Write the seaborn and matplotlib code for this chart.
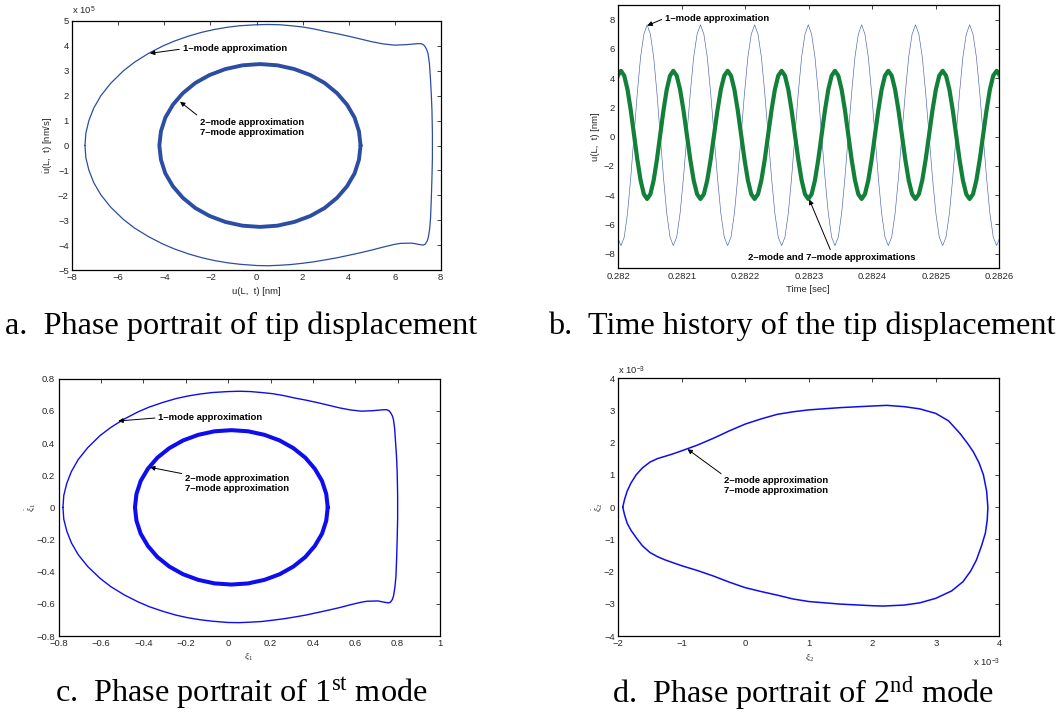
import numpy as np
import pandas as pd
import matplotlib
matplotlib.use("Agg")
import matplotlib.pyplot as plt
from matplotlib.ticker import FuncFormatter
import seaborn as sns

# ---------------- data ----------------
# (a) phase portrait of tip displacement: x in nm, y in 1e5 nm/s
a_outer_x = [-7.45, -7.41, -7.28, -7.07, -6.76, -6.33, -5.78, -5.29, -4.69, -4.06, -3.55, -2.93, -2.36, -1.83,
             -1.26, -0.72, 0.00, 0.50, 1.00, 1.50, 2.00, 2.50, 3.00, 3.50, 4.00, 4.50, 5.00, 5.50, 6.00, 6.50,
             7.00, 7.15, 7.25, 7.33, 7.40, 7.45, 7.51, 7.55, 7.59, 7.62, 7.64, 7.64, 7.62, 7.59, 7.56, 7.52,
             7.46, 7.40, 7.32, 7.23, 7.04, 6.75, 6.25, 6.00, 5.50, 5.00, 4.50, 4.00, 3.50, 3.00, 2.50, 2.00,
             1.50, 1.00, 0.50, 0.00, -0.72, -1.26, -1.83, -2.36, -2.93, -3.55, -4.06, -4.69, -5.29, -5.78,
             -6.33, -6.76, -7.07, -7.28, -7.41, -7.45]
a_outer_y = [0.00, 0.50, 1.00, 1.50, 2.00, 2.50, 3.00, 3.35, 3.70, 4.00, 4.20, 4.40, 4.55, 4.66,
             4.75, 4.81, 4.85, 4.86, 4.85, 4.81, 4.76, 4.68, 4.58, 4.49, 4.39, 4.28, 4.17, 4.08, 4.03, 4.05,
             4.09, 4.09, 4.05, 3.96, 3.83, 3.69, 3.29, 2.76, 2.09, 1.43, 0.50, -0.50, -1.30, -2.20, -2.90, -3.35,
             -3.70, -3.86, -3.97, -4.00, -3.97, -3.92, -3.93, -3.97, -4.08, -4.20, -4.31, -4.41, -4.51, -4.59, -4.67, -4.73,
             -4.78, -4.81, -4.83, -4.82, -4.77, -4.71, -4.62, -4.51, -4.36, -4.16, -3.96, -3.66, -3.32, -2.97,
             -2.48, -1.98, -1.49, -0.99, -0.50, 0.00]
a_inner_x = [4.52, 4.45, 4.26, 3.93, 3.50, 2.96, 2.34, 1.64, 0.91, 0.15, -0.61, -1.35, -2.04, -2.66, -3.20, -3.63,
             -3.96, -4.15, -4.22, -4.15, -3.96, -3.63, -3.20, -2.66, -2.04, -1.35, -0.61, 0.15, 0.91, 1.64, 2.34,
             2.96, 3.50, 3.93, 4.26, 4.45, 4.52]
a_inner_y = [0.00, 0.57, 1.12, 1.64, 2.10, 2.51, 2.83, 3.07, 3.22, 3.27, 3.22, 3.07, 2.83, 2.51, 2.10, 1.64,
             1.12, 0.57, 0.00, -0.57, -1.12, -1.64, -2.10, -2.51, -2.83, -3.07, -3.22, -3.27, -3.22, -3.07, -2.83,
             -2.51, -2.10, -1.64, -1.12, -0.57, 0.00]

# (b) time history of the tip displacement
b_green_peak_times = [0.2820042, 0.2820866, 0.2821722, 0.2822572, 0.2823412, 0.2824252, 0.2825108, 0.2825958]
b_green_cycle = [4.50, 4.17, 3.22, 1.80, 0.12, -1.56, -2.98, -3.93, -4.26, -3.93, -2.98, -1.56, 0.12, 1.80, 3.22, 4.17]
b_blue_cycle = [-7.45, -6.87, -5.24, -2.79, 0.10, 2.99, 5.44, 7.00, 7.65, 7.00, 5.44, 2.99, 0.10, -2.79, -5.24, -6.87]
b_xticks = [0.2820, 0.2821, 0.2822, 0.2823, 0.2824, 0.2825, 0.2826]
b_xtick_labels = ["0.282", "0.2821", "0.2822", "0.2823", "0.2824", "0.2825", "0.2826"]

# (c) phase portrait of 1st mode
c_outer_x = [-0.780, -0.776, -0.762, -0.740, -0.708, -0.663, -0.605, -0.554, -0.491, -0.425, -0.372, -0.307,
             -0.247, -0.192, -0.132, -0.075, 0.000, 0.052, 0.105, 0.157, 0.209, 0.262, 0.314, 0.366, 0.419,
             0.471, 0.524, 0.576, 0.628, 0.681, 0.733, 0.749, 0.759, 0.767, 0.775, 0.780, 0.786, 0.790, 0.795,
             0.798, 0.800, 0.800, 0.798, 0.795, 0.792, 0.787, 0.781, 0.775, 0.766, 0.757, 0.737, 0.707, 0.654,
             0.628, 0.576, 0.524, 0.471, 0.419, 0.366, 0.314, 0.262, 0.209, 0.157, 0.105, 0.052, 0.000, -0.075,
             -0.132, -0.192, -0.247, -0.307, -0.372, -0.425, -0.491, -0.554, -0.605, -0.663, -0.708, -0.740,
             -0.762, -0.776, -0.780]
c_outer_y = [0.000, 0.074, 0.149, 0.223, 0.297, 0.371, 0.446, 0.497, 0.549, 0.594, 0.624, 0.653,
             0.676, 0.692, 0.705, 0.714, 0.720, 0.722, 0.720, 0.714, 0.707, 0.695, 0.680, 0.667, 0.652,
             0.636, 0.619, 0.606, 0.598, 0.601, 0.607, 0.607, 0.601, 0.588, 0.569, 0.548, 0.489, 0.410, 0.310,
             0.212, 0.074, -0.074, -0.193, -0.327, -0.431, -0.497, -0.549, -0.573, -0.590, -0.594, -0.590, -0.582, -0.584,
             -0.590, -0.606, -0.624, -0.640, -0.655, -0.670, -0.682, -0.693, -0.702, -0.710, -0.714, -0.717, -0.716, -0.708,
             -0.699, -0.686, -0.670, -0.647, -0.618, -0.588, -0.544, -0.493, -0.441, -0.368, -0.294, -0.221,
             -0.147, -0.074, 0.000]
c_inner_x = [0.470, 0.463, 0.443, 0.409, 0.364, 0.308, 0.243, 0.171, 0.094, 0.015, -0.064, -0.141, -0.213,
             -0.278, -0.334, -0.379, -0.413, -0.433, -0.440, -0.433, -0.413, -0.379, -0.334, -0.278, -0.213,
             -0.141, -0.064, 0.015, 0.094, 0.171, 0.243, 0.308, 0.364, 0.409, 0.443, 0.463, 0.470]
c_inner_y = [0.000, 0.083, 0.164, 0.240, 0.309, 0.368, 0.416, 0.451, 0.473, 0.480, 0.473, 0.451, 0.416,
             0.368, 0.309, 0.240, 0.164, 0.083, 0.000, -0.083, -0.164, -0.240, -0.309, -0.368, -0.416,
             -0.451, -0.473, -0.480, -0.473, -0.451, -0.416, -0.368, -0.309, -0.240, -0.164, -0.083, 0.000]

# (d) phase portrait of 2nd mode (both axes in 1e-3)
d_x = [-1.93, -1.90, -1.86, -1.80, -1.72, -1.62, -1.50, -1.38, -1.26, -1.13, -1.00, -0.75, -0.50, -0.25, 0.00,
       0.25, 0.50, 0.75, 1.00, 1.50, 2.00, 2.23, 2.50, 2.75, 3.00, 3.20, 3.38, 3.50, 3.59, 3.68, 3.75, 3.80,
       3.82, 3.81, 3.78, 3.72, 3.64, 3.55, 3.43, 3.25, 3.00, 2.75, 2.50, 2.17, 2.00, 1.50, 1.00, 0.75, 0.50,
       0.25, 0.00, -0.25, -0.50, -0.75, -1.00, -1.13, -1.26, -1.38, -1.50, -1.62, -1.71, -1.80, -1.86, -1.90,
       -1.93]
d_y = [0.00, 0.25, 0.50, 0.75, 1.00, 1.22, 1.40, 1.51, 1.58, 1.66, 1.75, 1.93, 2.14, 2.37, 2.58,
       2.74, 2.88, 2.96, 3.02, 3.09, 3.14, 3.16, 3.12, 3.05, 2.91, 2.68, 2.29, 1.98, 1.72, 1.38, 1.00, 0.50,
       0.00, -0.40, -0.81, -1.20, -1.64, -1.98, -2.31, -2.60, -2.83, -2.97, -3.04, -3.07, -3.06, -3.01, -2.93, -2.85, -2.73,
       -2.62, -2.50, -2.33, -2.14, -1.97, -1.82, -1.73, -1.64, -1.54, -1.41, -1.20, -0.97, -0.72, -0.50, -0.25,
       0.00]

captions = ["a.  Phase portrait of tip displacement",
            "b.  Time history of the tip displacement",
            "c.  Phase portrait of 1$^{\\mathrm{st}}$ mode",
            "d.  Phase portrait of 2$^{\\mathrm{nd}}$ mode"]

for xs, ys in [(a_outer_x, a_outer_y), (a_inner_x, a_inner_y), (c_outer_x, c_outer_y),
               (c_inner_x, c_inner_y), (d_x, d_y)]:
    assert len(xs) == len(ys), (len(xs), len(ys))

# ---------------- style ----------------
sns.set_style("white")
plt.rcParams.update({
    "font.family": ["Liberation Sans", "DejaVu Sans"],
    "mathtext.fontset": "custom",
    "mathtext.rm": "Liberation Serif",
    "mathtext.it": "Liberation Serif:italic",
    "mathtext.bf": "Liberation Serif:bold",
    "mathtext.sf": "Liberation Sans",
    "lines.solid_joinstyle": "round",
})

W, H = 1060, 723
fig = plt.figure(figsize=(W / 100, H / 100), dpi=100)


def rect(l, t, r, b):
    return [l / W, 1 - b / H, (r - l) / W, (b - t) / H]


def _fmt(v, _):
    if abs(v) < 1e-9:
        return "0"
    return f"{v:g}".replace("-", "\u2212")


fmt = FuncFormatter(_fmt)
TICK_FS = 6.8
ANN_FS = 6.8


def style(ax, xlim, ylim, xticks, yticks):
    ax.set_xlim(xlim)
    ax.set_ylim(ylim)
    ax.set_xticks(xticks)
    ax.set_yticks(yticks)
    ax.xaxis.set_major_formatter(fmt)
    ax.yaxis.set_major_formatter(fmt)
    ax.tick_params(direction="in", length=3, width=0.6, top=True, right=True,
                   labelsize=TICK_FS, labelcolor="#262626", pad=2.5, color="#222222")
    for s in ax.spines.values():
        s.set_visible(True)
        s.set_color("black")
        s.set_linewidth(0.9)
    ax.grid(False)
    ax.set_xlabel("")
    ax.set_ylabel("")


def labels(ax, box, xl, yl, xpos, ypos):
    l, t, r, b = box
    ax.set_xlabel(xl, fontsize=TICK_FS, color="#262626", va="center", ha="center")
    ax.xaxis.set_label_coords((xpos[0] - l) / (r - l), (b - xpos[1]) / (b - t))
    ax.set_ylabel(yl, fontsize=TICK_FS, color="#262626", va="center", ha="center")
    ax.yaxis.set_label_coords((ypos[0] - l) / (r - l), (b - ypos[1]) / (b - t))


arrow = dict(arrowstyle="-|>", lw=0.7, color="black", mutation_scale=7, shrinkA=0, shrinkB=0)


def annotate(ax, text, tip, pos, ha="left", relpos=(0, 0.5)):
    ap = dict(arrow)
    ap["relpos"] = relpos
    ax.annotate(text, xy=tip, xytext=pos, ha=ha, va="center", fontsize=ANN_FS,
                fontweight="bold", color="black", linespacing=1.15, arrowprops=ap)


def loop(ax, xs, ys, color, lw):
    sns.lineplot(x=xs, y=ys, sort=False, estimator=None, errorbar=None, ax=ax, color=color, lw=lw)


# ---------------- (a) ----------------
box_a = (72.3, 21, 440.7, 270)
ax_a = fig.add_axes(rect(*box_a))
col_a = "#2B4DA3"
loop(ax_a, a_outer_x, a_outer_y, col_a, 0.9)
loop(ax_a, a_inner_x, a_inner_y, col_a, 2.8)
style(ax_a, (-8, 8), (-5, 5), range(-8, 9, 2), range(-5, 6, 1))
labels(ax_a, box_a, "u(L,  t) [nm]", r"$\dot{\mathsf{u}}$(L,  t) [nm/s]", (256, 291), (48, 145))
annotate(ax_a, "1\u2013mode approximation", (-4.63, 3.70), (-3.21, 3.88))
annotate(ax_a, "2\u2013mode approximation\n7\u2013mode approximation", (-3.32, 1.76), (-2.45, 0.74), relpos=(0, 1))
fig.text(72 / W, 1 - 11 / H, r"x 10$^{\mathsf{5}}$", fontsize=TICK_FS, color="#262626", va="center", ha="left")

# ---------------- (b) ----------------
box_b = (618.3, 5, 999.3, 268.3)
ax_b = fig.add_axes(rect(*box_b))
n = len(b_green_cycle)
pk = list(b_green_peak_times)
pk = [pk[0] - (pk[1] - pk[0])] + pk + [pk[-1] + (pk[-1] - pk[-2])]
t_vals, g_vals, bl_vals = [], [], []
for i in range(len(pk) - 1):
    for k in range(n):
        t_vals.append(pk[i] + (pk[i + 1] - pk[i]) * k / n)
        g_vals.append(b_green_cycle[k])
        bl_vals.append(b_blue_cycle[k])
t_vals.append(pk[-1]); g_vals.append(b_green_cycle[0]); bl_vals.append(b_blue_cycle[0])
df_b = pd.DataFrame({"t": t_vals, "green": g_vals, "blue": bl_vals})
sns.lineplot(data=df_b, x="t", y="blue", sort=False, estimator=None, errorbar=None, ax=ax_b, color="#4A62B5", lw=0.45)
sns.lineplot(data=df_b, x="t", y="green", sort=False, estimator=None, errorbar=None, ax=ax_b, color="#128039", lw=3.0)
style(ax_b, (0.282, 0.2826), (-9, 9), b_xticks, range(-8, 9, 2))
ax_b.set_xticklabels(b_xtick_labels)
labels(ax_b, box_b, "Time [sec]", "u(L,  t) [nm]", (808, 289), (595, 137))
annotate(ax_b, "1\u2013mode approximation", (0.2820457, 7.59), (0.2820735, 8.11))
annotate(ax_b, "2\u2013mode and 7\u2013mode approximations", (0.2823008, -4.3), (0.282336, -8.25),
         ha="center", relpos=(0.5, 1))

# ---------------- (c) ----------------
box_c = (58.7, 378.7, 440, 636)
ax_c = fig.add_axes(rect(*box_c))
col_c = "#0D0DF0"
loop(ax_c, c_outer_x, c_outer_y, col_c, 1.0)
loop(ax_c, c_inner_x, c_inner_y, col_c, 2.9)
style(ax_c, (-0.8, 1.0), (-0.8, 0.8), np.round(np.arange(-0.8, 1.01, 0.2), 1), np.round(np.arange(-0.8, 0.81, 0.2), 1))
labels(ax_c, box_c, r"$\xi_1$", r"$\dot{\xi}_1$", (249, 656), (30, 507))
annotate(ax_c, "1\u2013mode approximation", (-0.519, 0.537), (-0.33, 0.557))
annotate(ax_c, "2\u2013mode approximation\n7\u2013mode approximation", (-0.369, 0.249), (-0.204, 0.147), relpos=(0, 1))

# ---------------- (d) ----------------
box_d = (618.3, 378.3, 999.3, 636)
ax_d = fig.add_axes(rect(*box_d))
loop(ax_d, d_x, d_y, col_c, 1.1)
style(ax_d, (-2, 4), (-4, 4), range(-2, 5, 1), range(-4, 5, 1))
labels(ax_d, box_d, r"$\xi_2$", r"$\dot{\xi}_2$", (809, 657), (597, 507))
annotate(ax_d, "2\u2013mode approximation\n7\u2013mode approximation", (-0.91, 1.80), (-0.33, 0.67), relpos=(0, 1))
fig.text(618 / W, 1 - 371 / H, r"x 10$^{\mathsf{-3}}$", fontsize=TICK_FS, color="#262626", va="center", ha="left")
fig.text(973 / W, 1 - 663 / H, r"x 10$^{\mathsf{-3}}$", fontsize=TICK_FS, color="#262626", va="center", ha="left")

# ---------------- captions ----------------
cap_pos = [(5, 326), (548, 326), (55, 693), (612, 693)]
for txt, (x, y) in zip(captions, cap_pos):
    fig.text(x / W, 1 - y / H, txt, fontsize=23.2, family="Liberation Serif", color="black", va="center", ha="left")

fig.savefig("out.png", dpi=100)
